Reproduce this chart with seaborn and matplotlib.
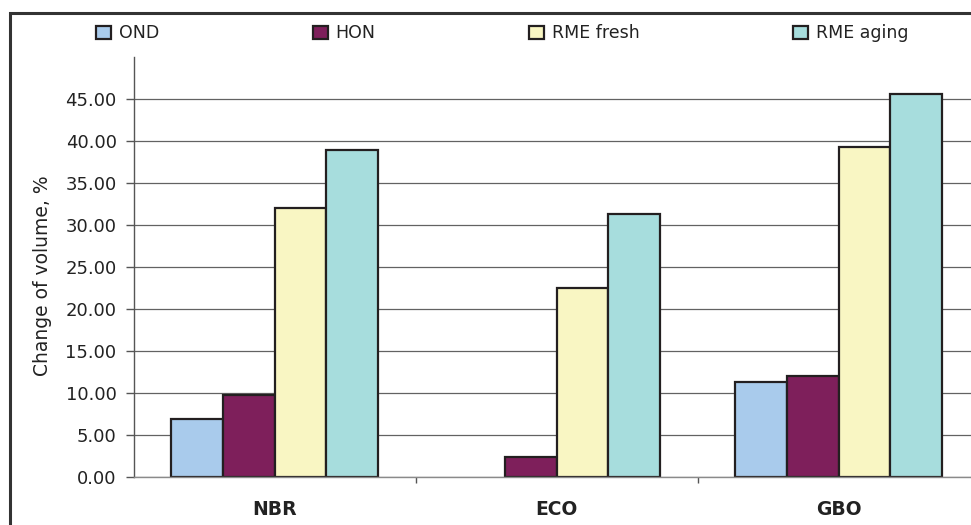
import numpy as np
import pandas as pd
import matplotlib
matplotlib.use("Agg")
import matplotlib.pyplot as plt
import seaborn as sns
from matplotlib.patches import Patch, Rectangle
from matplotlib.ticker import FixedLocator, FormatStrFormatter

# Volume change of elastomers after immersion in fuels
materials = ["NBR", "ECO", "GBO"]
fuels = ["OND", "HON", "RME fresh", "RME aging"]
ond = [6.9, 0.0, 11.35]
hon = [9.85, 2.45, 12.05]
rme_fresh = [32.0, 22.5, 39.3]
rme_aging = [38.95, 31.3, 45.6]
y_ticks = [0, 5, 10, 15, 20, 25, 30, 35, 40, 45]
colors = ["#A9CBEC", "#7E1F5B", "#F9F6C3", "#A7DDDD"]

df = pd.DataFrame({
    "material": materials * len(fuels),
    "fuel": np.repeat(fuels, len(materials)),
    "change": ond + hon + rme_fresh + rme_aging,
})

sns.set_style("white")
plt.rcParams["font.family"] = ["DejaVu Sans"]

W, H = 971, 525
fig = plt.figure(figsize=(W / 100, H / 100), dpi=100)
ax = fig.add_axes([133.7 / W, 47.7 / H, 846 / W, 420.3 / H])

edge = "#231F20"
sns.barplot(data=df, x="material", y="change", hue="fuel",
            order=materials, hue_order=fuels, palette=colors,
            width=0.732, edgecolor=edge, linewidth=1.6, saturation=1,
            legend=False, ax=ax)

# zero-height bars leave no outline on the axis
for bar in ax.patches:
    if bar.get_height() == 0:
        bar.set_linewidth(0)

ax.set_xlim(-0.5, 2.5)
ax.set_ylim(0, 50)
ax.yaxis.set_major_locator(FixedLocator(y_ticks))
ax.yaxis.set_major_formatter(FormatStrFormatter("%.2f"))
ax.set_axisbelow(True)
ax.yaxis.grid(True, color="#626262", linewidth=0.9)
ax.xaxis.grid(False)

for s in ["top", "right"]:
    ax.spines[s].set_visible(False)
ax.spines["left"].set_color("#555555")
ax.spines["left"].set_linewidth(1.0)
ax.spines["bottom"].set_color("#8a8a8a")
ax.spines["bottom"].set_linewidth(1.0)

ax.tick_params(axis="y", which="major", length=5.8, width=1, color="#555555",
               pad=6.5, labelsize=13, labelcolor="#222222", left=True)
ax.tick_params(axis="x", which="major", length=0, pad=16.5,
               labelsize=13.5, labelcolor="#222222", bottom=True)
for lab in ax.get_xticklabels():
    lab.set_fontweight("bold")
ax.xaxis.set_minor_locator(FixedLocator([0.5, 1.5]))
ax.tick_params(axis="x", which="minor", length=4.3, width=1, color="#555555",
               bottom=True)

ax.set_xlabel("")
ax.set_ylabel("Change of volume, %", fontsize=13.5, color="#222222")
ax.yaxis.set_label_coords(-0.097, 0.48)

handles = [Patch(facecolor=c, edgecolor=edge, linewidth=1.6) for c in colors]
fig.legend(handles, fuels, loc="center left",
           bbox_to_anchor=(96 / W, 1 - 33.5 / H), ncol=4, frameon=False,
           borderpad=0, borderaxespad=0, handlelength=0.86, handleheight=0.86,
           handletextpad=0.45, columnspacing=8.85, fontsize=12.5,
           labelcolor="#222222")

# outer chart frame
fig.patches.append(Rectangle((10 / W, -0.1), 1.2, 1.1 - 13 / H,
                             transform=fig.transFigure, fill=False,
                             edgecolor="#333333", linewidth=2.2))

fig.savefig("out.png", dpi=100)
